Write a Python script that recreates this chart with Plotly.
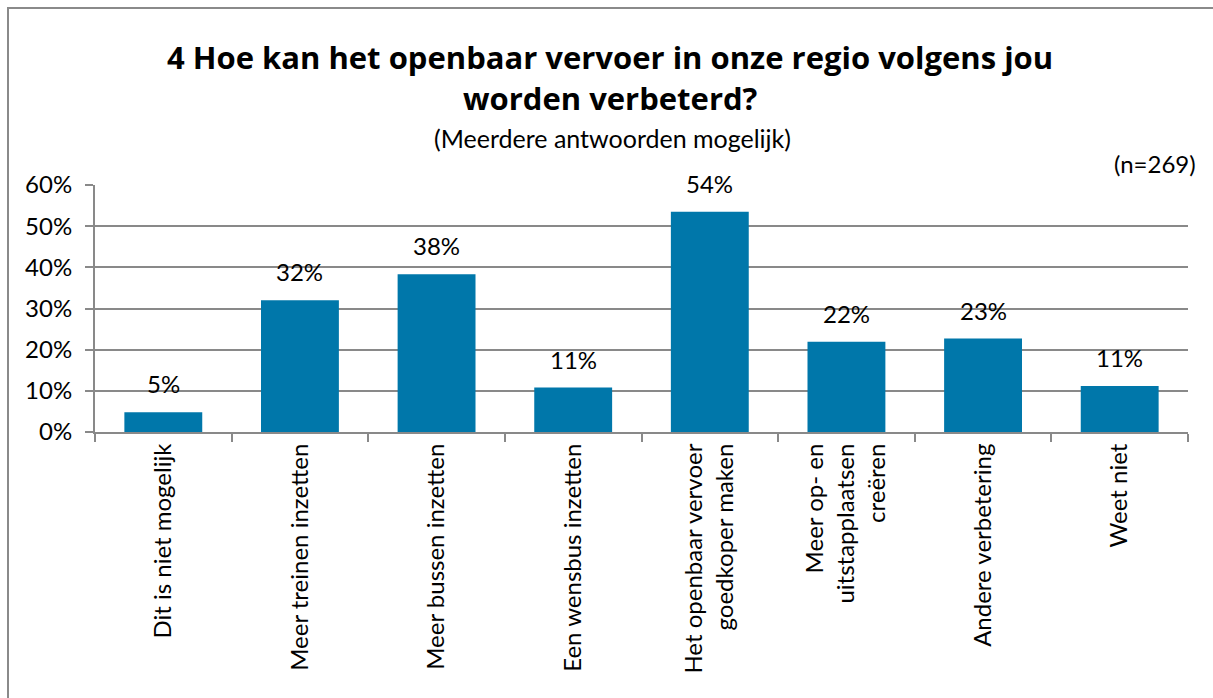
import plotly.graph_objects as go

categories = [
    "Dit is niet mogelijk",
    "Meer treinen inzetten",
    "Meer bussen inzetten",
    "Een wensbus inzetten",
    "Het openbaar vervoer<br>goedkoper maken",
    "Meer op- en<br>uitstapplaatsen<br>creëren",
    "Andere verbetering",
    "Weet niet",
]
values = [4.8, 32.0, 38.3, 10.8, 53.5, 21.9, 22.7, 11.2]
labels = ["5%", "32%", "38%", "11%", "54%", "22%", "23%", "11%"]
tick_vals = [0, 10, 20, 30, 40, 50, 60]
tick_text = ["0%", "10%", "20%", "30%", "40%", "50%", "60%"]

FONT = "Lato"
TFONT = "Open Sans"
W, H = 1213, 698
L, R, T, B = 95, 25, 185, 266
pw, ph = W - L - R, H - T - B

def px_x(x):
    return (x - L) / pw

def px_y(y):
    return (H - B - y) / ph

fig = go.Figure()
fig.add_trace(go.Bar(
    x=categories, y=values,
    marker=dict(color="#0077AA", line=dict(width=0)),
    width=0.57,
    hoverinfo="skip",
))

for c, v, t in zip(categories, values, labels):
    fig.add_annotation(x=c, y=v, text=t, showarrow=False, yanchor="bottom",
                       yshift=12, font=dict(family=FONT, size=24, color="#000"))

fig.add_annotation(xref="paper", yref="paper", x=px_x(610), y=px_y(57),
                   text="<b>4 Hoe kan het openbaar vervoer in onze regio volgens jou</b>",
                   showarrow=False, xanchor="center", yanchor="middle",
                   font=dict(family=TFONT, size=31, color="#000"))
fig.add_annotation(xref="paper", yref="paper", x=px_x(610), y=px_y(98),
                   text="<b>worden verbeterd?</b>",
                   showarrow=False, xanchor="center", yanchor="middle",
                   font=dict(family=TFONT, size=31, color="#000"))
fig.add_annotation(xref="paper", yref="paper", x=px_x(612), y=px_y(138),
                   text="(Meerdere antwoorden mogelijk)",
                   showarrow=False, xanchor="center", yanchor="middle",
                   font=dict(family=FONT, size=25, color="#000"))
fig.add_annotation(xref="paper", yref="paper", x=px_x(1198), y=px_y(163),
                   text="(n=269)",
                   showarrow=False, xanchor="right", yanchor="middle",
                   font=dict(family=FONT, size=24, color="#000"))

fig.add_shape(type="rect", xref="paper", yref="paper",
              x0=px_x(8), x1=px_x(1240), y0=px_y(730), y1=px_y(8),
              line=dict(color="#8a8a8a", width=2), layer="below")

fig.update_layout(
    width=W, height=H,
    margin=dict(l=L, r=R, t=T, b=B),
    paper_bgcolor="white", plot_bgcolor="white",
    showlegend=False,
    bargap=0.43,
    font=dict(family=FONT, color="#000"),
    xaxis=dict(
        type="category",
        tickangle=-90,
        tickfont=dict(family=FONT, size=24, color="#000"),
        ticks="outside", tickson="boundaries", ticklen=8,
        tickcolor="#898989", tickwidth=2,
        showline=True, linecolor="#898989", linewidth=2,
        showgrid=False,
    ),
    yaxis=dict(
        range=[0, 60],
        tickvals=tick_vals, ticktext=tick_text,
        tickfont=dict(family=FONT, size=24, color="#000"),
        ticks="outside", ticklen=8, tickcolor="#898989", tickwidth=2,
        ticklabelstandoff=8,
        showline=True, linecolor="#898989", linewidth=2,
        showgrid=True, gridcolor="#898989", gridwidth=2,
        zeroline=False,
    ),
)

fig.write_html("out.html")
